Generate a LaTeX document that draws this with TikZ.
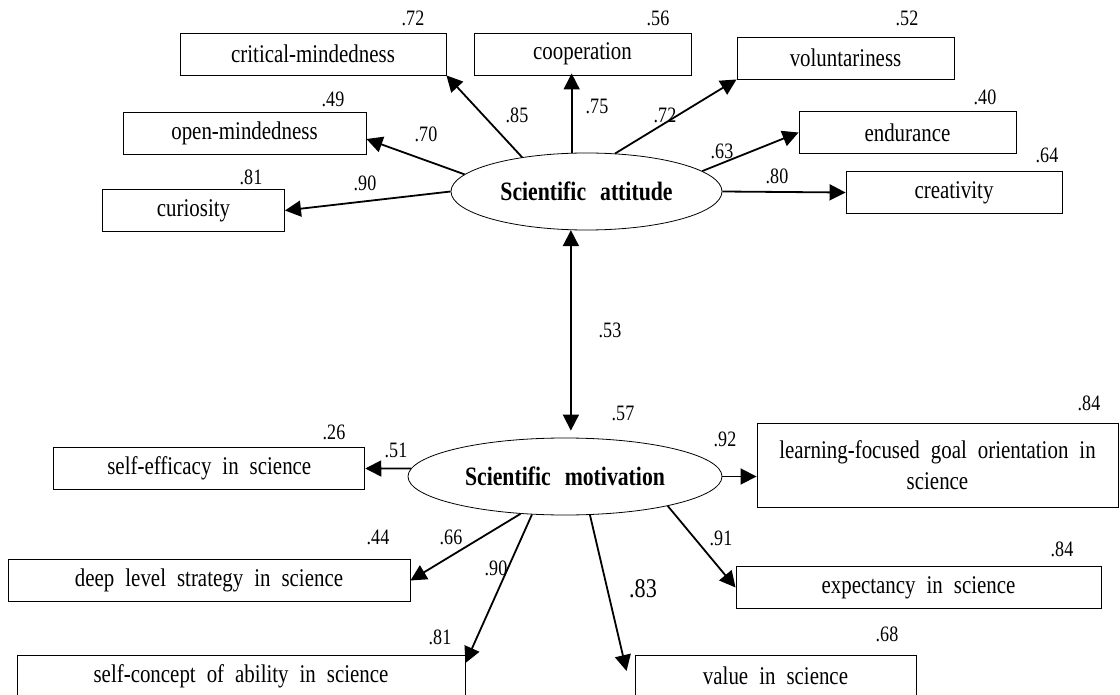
\documentclass[tikz,border=0pt]{standalone}
\usepackage{fontspec}
\setmainfont[FakeStretch=0.82]{Liberation Serif}
\usetikzlibrary{arrows.meta, shapes.geometric}

\newcommand{\obsfont}{\fontsize{25.5}{31}\selectfont\spaceskip 11pt\relax}
\newcommand{\latfont}{\bfseries\fontsize{26.5}{30}\selectfont\spaceskip 14pt\relax}

\tikzset{%
  % Specifications for style of nodes:
         obs/.style = {rectangle, draw = black, line width=0.9pt, minimum height=42pt, inner sep=0pt, font=\obsfont},
         latent/.style = {ellipse, draw = black, line width=0.8pt, inner sep=0pt, minimum height=77pt, font=\latfont},
         coef/.style = {inner sep=0pt, font=\fontsize{22}{24}\selectfont},
         load/.style = {-{Triangle[length=16pt,width=16pt]}, line width=1.8pt},
}

\begin{document}
\begin{tikzpicture}[x=1pt, y=-1pt]
    \useasboundingbox (0,0) rectangle (1120,695);

    % Draw latent nodes
    \node (att) [latent, minimum width=271pt] at (586.5,191.5) {Scientific attitude};
    \node (mot) [latent, minimum width=314pt] at (565,476.5)   {Scientific motivation};

    % Draw indicator nodes
    \node (crit)  [obs, minimum width=266pt] at (313,54)      {critical-mindedness};
    \node (coop)  [obs, minimum width=217pt] at (582.5,54)    {cooperation};
    \node (volu)  [obs, minimum width=217pt] at (845.5,58)    {voluntariness};
    \node (open)  [obs, minimum width=243pt] at (244.5,133)   {open-mindedness};
    \node (endu)  [obs, minimum width=217pt] at (907.5,132.5) {endurance};
    \node (curi)  [obs, minimum width=182pt] at (193.5,210.5) {curiosity};
    \node (crea)  [obs, minimum width=216pt] at (954,192.5)   {creativity};

    \node (effi)  [obs, minimum width=311pt] at (209.3,468.5) {self-efficacy in science};
    \node (goal)  [obs, minimum width=361pt, minimum height=84pt, align=center] at (937.5,465)
                  {learning-focused goal orientation in\\science};
    \node (deep)  [obs, minimum width=402pt] at (209,580.5)   {deep level strategy in science};
    \node (expe)  [obs, minimum width=365pt] at (918.5,587.5) {expectancy in science};
    \node (conc)  [obs, minimum width=448pt] at (241,676.5)   {self-concept of ability in science};
    \node (valu)  [obs, minimum width=281pt] at (775.5,676)   {value in science};

    % Draw explained variances
    \node (rcrit) [coef] at (413,18)   {.72};
    \node (rcoop) [coef] at (658,18)   {.56};
    \node (rvolu) [coef] at (907,18)   {.52};
    \node (ropen) [coef] at (333,99)   {.49};
    \node (rendu) [coef] at (985,97)   {.40};
    \node (rcuri) [coef] at (251,177)  {.81};
    \node (rcrea) [coef] at (1047,155) {.64};
    \node (rmot)  [coef] at (623,413)  {.57};
    \node (reffi) [coef] at (334,432)  {.26};
    \node (rgoal) [coef] at (1089,403) {.84};
    \node (rdeep) [coef] at (378,537)  {.44};
    \node (rexpe) [coef] at (1062,549) {.84};
    \node (rconc) [coef] at (440,637)  {.81};
    \node (rvalu) [coef] at (887,634)  {.68};

    % Draw loadings
    \node (lcrit) [coef] at (517,115) {.85};
    \node (lcoop) [coef] at (597,106) {.75};
    \node (lvolu) [coef] at (665,115) {.72};
    \node (lopen) [coef] at (426,134) {.70};
    \node (lendu) [coef] at (722,151) {.63};
    \node (lcuri) [coef] at (365,183) {.90};
    \node (lcrea) [coef] at (777,176) {.80};
    \node (lcorr) [coef] at (610,330) {.53};
    \node (leffi) [coef] at (396,450) {.51};
    \node (lgoal) [coef] at (725,439) {.92};
    \node (ldeep) [coef] at (451,537) {.66};
    \node (lexpe) [coef] at (721,538) {.91};
    \node (lconc) [coef] at (496,568) {.90};
    \node (lvalu) [coef, font=\fontsize{27}{30}\selectfont] at (643,589) {.83};

    % Draw arrows
    \draw[load] (att.152) -- (crit.south east);
    \draw[load] (att.111) -- ([yshift=2pt]att.111 |- coop.south);
    \draw[load] (att.53)  -- (volu.south west);
    \draw[load] (att.172) -- ([yshift=-6pt]open.east);
    \draw[load] (att.west) -- (curi.east);
    \draw[load] (att.10)  -- (endu.west);
    \draw[load] (att.east) -- (crea.west);

    \draw[{Triangle[length=16pt,width=16pt]}-{Triangle[length=16pt,width=16pt]}, line width=1.8pt, shorten >=7pt]
                (att.248) -- (att.248 |- mot.north);

    \draw[load] (mot.177) -- (effi.east);
    \draw[load] (mot.east) -- (mot.east -| goal.west);
    \draw[load] (mot.220) -- (deep.east);
    \draw[load] (mot.229) -- ([yshift=-8pt]conc.north east);
    \draw[load] (mot.303) -- ([xshift=-8pt,yshift=5pt]valu.west);
    \draw[load] (mot.344) -- (expe.west);
\end{tikzpicture}
\end{document}
